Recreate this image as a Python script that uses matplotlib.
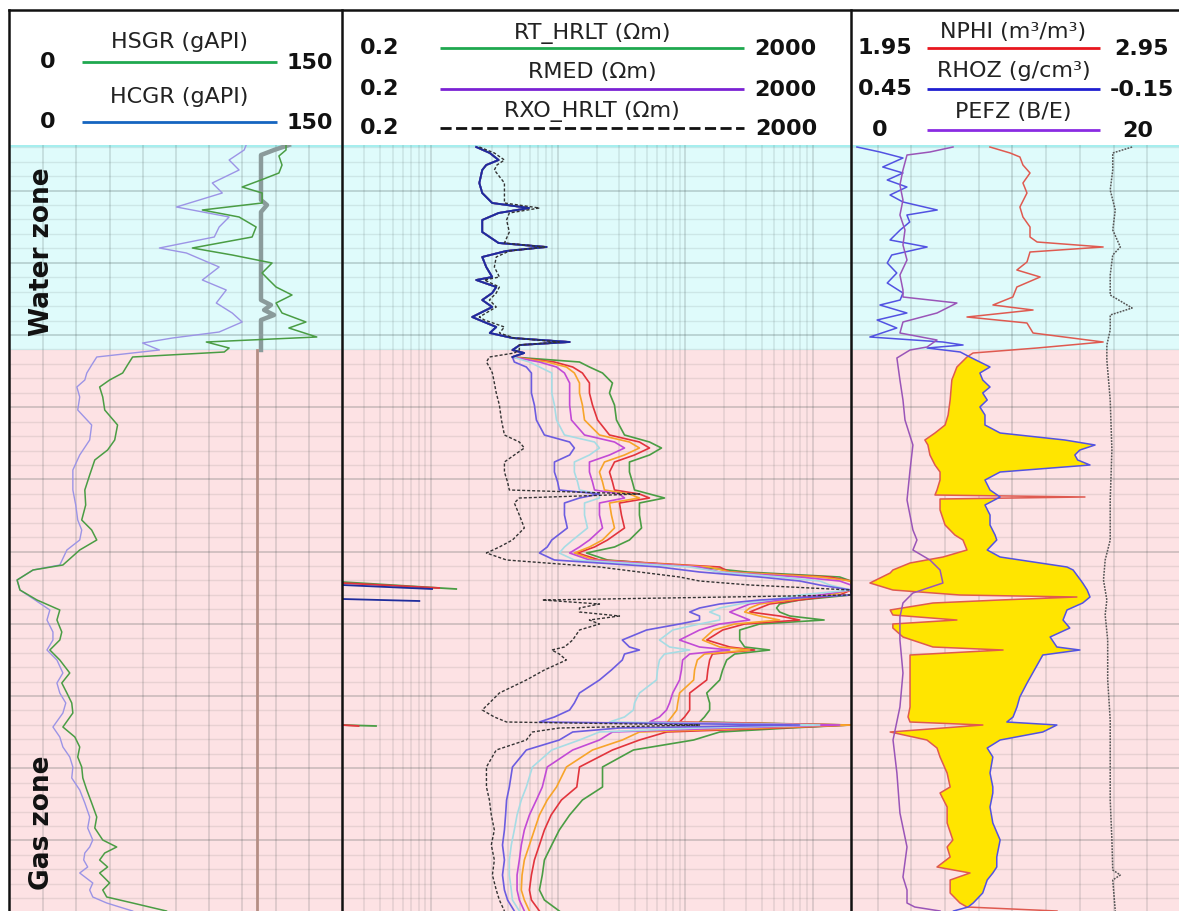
import numpy as np
import matplotlib
matplotlib.use("Agg")
import matplotlib.pyplot as plt

# ---------------- depth frame (m) ----------------
top_depth = 2600.0
contact_depth = 2641.0      # water / gas contact
base_depth = 2753.2

# ---------------- track 1 : gamma ray (gAPI) ----------------
hsgr_depth = [2600.0, 2601.0, 2602.2, 2604.0, 2605.6, 2607.0, 2608.4, 2609.6, 2611.6, 2613.0,
              2614.4, 2616.4, 2618.4, 2620.6, 2622.0, 2623.6, 2625.6, 2627.0, 2628.4, 2630.0,
              2631.6, 2633.6, 2635.4, 2636.6, 2638.4, 2639.4, 2640.6, 2641.4, 2642.4, 2644.0,
              2645.6, 2647.0, 2648.4, 2650.4, 2653.0, 2656.0, 2659.0, 2661.0, 2663.0, 2666.0,
              2669.0, 2672.0, 2675.0, 2677.0, 2679.0, 2681.0, 2684.0, 2685.0, 2687.0, 2689.0,
              2691.0, 2693.0, 2695.0, 2697.4, 2699.0, 2701.0, 2703.0, 2705.6, 2707.6, 2709.6,
              2711.6, 2713.6, 2716.4, 2718.4, 2720.4, 2722.4, 2724.4, 2726.6, 2729.0, 2731.6,
              2734.4, 2736.6, 2739.0, 2740.4, 2741.6, 2743.0, 2744.4, 2745.6, 2747.6, 2749.0,
              2750.4, 2751.6, 2752.4, 2753.2]
hsgr = [124.7, 124.7, 121.5, 122.9, 121.5, 113.4, 104.9, 113.9, 113.9, 86.9,
        103.5, 111.2, 109.4, 82.4, 100.4, 118.4, 113.9, 117.0, 120.2, 127.4,
        120.2, 122.9, 133.7, 126.0, 138.6, 88.7, 99.0, 96.8, 55.4, 53.1,
        50.9, 45.0, 40.5, 41.9, 42.8, 48.6, 47.3, 44.1, 38.3, 36.0,
        33.8, 34.2, 32.4, 36.9, 39.2, 31.5, 23.9, 10.4, 3.2, 4.5,
        12.2, 22.5, 21.2, 23.4, 22.5, 18.0, 22.5, 27.0, 23.4, 25.7,
        27.9, 28.4, 23.9, 29.3, 31.5, 30.6, 32.4, 32.9, 34.7, 36.9,
        39.2, 38.3, 41.9, 48.2, 42.8, 40.5, 44.1, 40.5, 45.0, 41.9,
        43.7, 55.4, 63.0, 70.7]

hcgr_depth = [2600.0, 2601.0, 2603.0, 2605.0, 2607.6, 2609.6, 2612.4, 2614.4, 2616.4, 2618.4,
              2620.6, 2621.6, 2624.4, 2627.0, 2629.0, 2631.6, 2633.6, 2635.4, 2637.4, 2638.6,
              2639.6, 2641.0, 2642.4, 2644.0, 2645.6, 2647.0, 2648.4, 2650.4, 2653.0, 2656.0,
              2659.0, 2662.0, 2665.0, 2669.0, 2672.0, 2675.0, 2677.0, 2679.0, 2681.0, 2684.0,
              2685.0, 2687.0, 2689.0, 2691.0, 2693.0, 2695.0, 2697.4, 2699.0, 2701.0, 2703.0,
              2705.6, 2707.6, 2709.6, 2711.6, 2713.6, 2716.4, 2718.4, 2720.4, 2722.4, 2724.4,
              2726.6, 2729.0, 2731.6, 2734.4, 2736.6, 2739.0, 2740.4, 2741.6, 2743.0, 2744.4,
              2745.6, 2747.6, 2749.0, 2750.4, 2751.6, 2752.4, 2753.2]
hcgr = [106.7, 105.8, 99.0, 103.5, 91.4, 95.9, 75.2, 99.0, 94.5, 92.3,
        67.5, 79.7, 94.5, 86.9, 97.7, 93.2, 100.4, 104.9, 94.5, 73.4,
        59.9, 67.5, 39.2, 36.9, 34.7, 33.8, 30.2, 31.5, 30.6, 36.9,
        36.0, 31.5, 28.4, 28.4, 29.7, 30.6, 32.4, 31.5, 25.7, 22.5,
        10.4, 3.2, 4.5, 11.3, 18.0, 16.7, 19.4, 19.4, 16.7, 21.2,
        23.9, 21.2, 22.5, 25.2, 23.9, 19.4, 22.5, 23.9, 27.0, 28.4,
        27.9, 31.5, 33.8, 36.0, 35.1, 37.4, 36.0, 33.8, 33.3, 35.1,
        31.5, 37.4, 36.0, 37.4, 43.7, 49.5, 55.4]

# tool reference trace drawn on the gamma-ray scale
tens_water_depth = [2600.0, 2601.0, 2602.0, 2611.0, 2612.0, 2613.4, 2631.0, 2632.0, 2633.0, 2634.0, 2635.0, 2641.0]
tens_water = [126.0, 119.3, 113.4, 113.4, 116.1, 113.4, 113.4, 117.9, 114.8, 119.3, 113.4, 113.4]
tens_gas_depth = [2641.0, 2753.2]
tens_gas = [111.6, 111.6]

# ---------------- track 2 : resistivity (ohm.m) ----------------
res_water_depth = [2600.4, 2601.6, 2603.0, 2604.0, 2605.0, 2607.6, 2609.6, 2611.6, 2612.6, 2613.6,
                   2615.0, 2617.4, 2619.6, 2620.4, 2621.2, 2622.4, 2624.4, 2626.4, 2627.0, 2628.4,
                   2629.6, 2631.0, 2632.4, 2634.4, 2635.0, 2636.4, 2637.6, 2638.6, 2639.4, 2640.0,
                   2641.0, 2641.6, 2642.4]
res_water = [2.27, 2.9, 3.4, 2.72, 2.53, 2.4, 2.53, 3.03, 5.9, 3.4,
             2.53, 2.53, 3.4, 8.1, 3.9, 2.53, 2.72, 3.03, 2.27, 3.26,
             3.03, 2.53, 3.03, 2.11, 2.4, 3.26, 2.9, 4.37, 12.3, 5.0,
             4.37, 5.4, 4.37]
rxo_water = [2.4, 3.15, 3.78, 3.3, 3.15, 3.78, 3.78, 3.78, 7.12, 4.13,
             3.93, 4.13, 3.78, 7.79, 4.13, 3.26, 3.15, 3.45, 2.63, 3.45,
             3.26, 2.88, 3.26, 2.4, 2.63, 3.78, 3.45, 4.52, 10.2, 4.95,
             4.95, 4.52, 2.88]

res_gas_depth = [2643.4, 2644.4, 2645.6, 2647.6, 2649.6, 2652.0, 2655.0, 2658.0, 2659.4, 2660.6,
                 2662.0, 2663.4, 2665.4, 2667.4, 2669.0, 2669.8, 2670.6, 2671.6, 2674.0, 2676.6,
                 2679.0, 2680.4, 2681.6, 2683.0, 2684.4, 2685.4, 2686.4, 2687.2, 2688.0, 2689.0,
                 2690.0, 2691.0, 2691.8, 2692.6, 2693.4, 2694.2, 2695.0, 2695.8, 2697.0, 2699.0,
                 2700.4, 2701.0, 2701.8, 2703.0, 2705.0, 2707.0, 2709.6, 2711.6, 2713.0, 2714.4,
                 2715.4, 2716.0, 2716.6, 2717.4, 2719.0, 2721.0, 2724.4, 2728.4, 2731.0, 2734.0,
                 2737.0, 2740.0, 2743.0, 2746.0, 2749.0, 2751.0, 2753.2]
rxo_gas = [2.73, 2.88, 3.04, 3.15, 3.26, 3.45, 3.58, 3.78, 4.95, 5.42,
           4.52, 3.78, 3.78, 4.0, 4.13, 43.5, 4.95, 4.52, 4.95, 5.42,
           4.37, 3.45, 2.73, 3.93, 21.1, 43.5, 89.9, 129, 320, 2000,
           2000, 7.5, 21.1, 14.7, 14.7, 30.3, 17.6, 21.1, 14.7, 13.0,
           11.2, 8.9, 10.2, 11.6, 7.79, 5.62, 3.45, 2.88, 2.53, 3.15,
           3.93, 129, 10.2, 6.27, 5.62, 3.26, 2.73, 2.73, 2.88, 2.98,
           3.15, 2.98, 3.15, 3.04, 3.26, 3.45, 3.78]
rmed_gas = [4.52, 5.62, 6.16, 6.16, 6.16, 6.50, 6.74, 7.79, 12.3, 13.4,
            12.3, 9.34, 9.34, 9.9, 10.2, 21.1, 14.7, 11.2, 11.2, 11.8,
            8.9, 8.2, 7.12, 9.34, 62.5, 129, 383, 790, 1135, 2000,
            2000, 383, 186, 129, 108, 129, 129, 89.9, 49.5, 31.9,
            36.3, 43.5, 33.2, 31.9, 26.2, 21.1, 14.7, 13.4, 12.3, 9.34,
            7.12, 790, 30.3, 13.0, 10.2, 5.62, 4.37, 4.13, 3.93, 3.86,
            3.78, 3.65, 3.78, 3.65, 3.78, 4.0, 4.52]
rla2_gas = [5.94, 7.12, 8.9, 8.9, 8.9, 9.34, 9.7, 11.2, 19.3, 21.1,
            17.6, 13.4, 13.4, 14.2, 14.7, 21.1, 21.1, 16.1, 16.1, 17.0,
            13.0, 11.2, 10.2, 13.4, 108, 186, 550, 1135, 1360, 2000,
            790, 459, 267, 186, 155, 186, 186, 129, 79.4, 62.5,
            75.0, 108, 68.5, 62.5, 60.3, 59.2, 43.5, 39.8, 39.0, 33.2,
            25.3, 1135, 129, 21.1, 14.7, 8.9, 6.27, 5.62, 5.13, 4.75,
            4.52, 4.28, 4.13, 4.13, 4.28, 4.37, 4.95]
rla3_gas = [7.12, 9.7, 11.2, 12.3, 12.3, 12.3, 12.7, 16.1, 27.7, 33.2,
            25.3, 17.6, 17.6, 18.6, 19.3, 30.3, 33.2, 21.1, 21.1, 22.3,
            17.6, 14.7, 12.3, 17.6, 129, 186, 790, 1630, 2000, 2000,
            1135, 550, 320, 267, 223, 267, 320, 186, 129, 89.9,
            129, 223, 108, 95.0, 93, 89.9, 79.4, 75.0, 71.0, 62.5,
            52.2, 1630, 223, 26.7, 21.1, 13.0, 8.2, 7.5, 6.74, 5.94,
            5.42, 5.13, 4.95, 4.75, 4.75, 4.95, 5.42]
rla4_gas = [8.2, 11.6, 13.4, 14.7, 14.7, 15.5, 16.1, 21.1, 36.3, 43.5,
            33.2, 23.1, 21.1, 22.3, 23.1, 36.3, 43.5, 25.3, 26.2, 27.7,
            22.3, 17.6, 13.4, 19.3, 155, 223, 1135, 2000, 2000, 2000,
            1360, 660, 383, 320, 292, 383, 550, 244, 166, 136,
            186, 320, 141, 124, 118, 116, 89.9, 87.0, 85.5, 77.8,
            72.3, 2000, 383, 43.5, 31.9, 18.6, 11.6, 9.7, 8.2, 7.12,
            6.50, 5.94, 5.42, 5.2, 5.13, 5.42, 5.94]
rla5_gas = [9.34, 13.0, 15.5, 17.6, 17.6, 18.6, 20.4, 25.3, 43.5, 52.2,
            39.8, 27.7, 25.3, 26.7, 27.7, 43.5, 52.2, 30.3, 31.4, 33.2,
            24.4, 19.3, 14.2, 21.1, 186, 223, 1360, 2000, 2000, 2000,
            1630, 790, 459, 383, 320, 550, 790, 292, 196, 147,
            223, 350, 163, 155, 150, 147, 108, 108, 108, 98.4,
            89.9, 2000, 550, 71.0, 43.5, 26.7, 14.7, 14.0, 10.6, 8.8,
            7.79, 7.12, 6.50, 6.16, 5.94, 6.16, 7.12]
rt_gas = [14.7, 17.6, 22.3, 26.7, 25.3, 27.7, 28.7, 33.2, 52.2, 64.8,
          52.2, 36.3, 36.3, 38.3, 39.8, 52.2, 68.5, 43.5, 43.5, 45.2,
          36.3, 27.7, 16.7, 24.4, 129, 306, 1630, 2000, 2000, 2000,
          2000, 790, 550, 520, 550, 660, 1230, 383, 267, 267,
          292, 459, 244, 211, 196, 186, 147, 155, 155, 141,
          129, 2000, 660, 186, 116, 39.0, 22.3, 22.3, 15.5, 12.3,
          10.2, 8.9, 7.79, 7.5, 7.12, 7.79, 10.2]

# readings above 2000 ohm.m re-entering from the left of the scale
wrap_rt_depth = [2687.4, 2688.8, np.nan, 2716.0, 2716.2]
wrap_rt = [0.2, 1.58, np.nan, 0.2, 0.37]
wrap_r5_depth = [2687.6, 2688.6, np.nan, 2716.0, 2716.2]
wrap_r5 = [0.2, 1.16, np.nan, 0.2, 0.27]
wrap_r1_depth = [2688.0, 2688.8, np.nan, 2690.8, 2691.2]
wrap_r1 = [0.2, 1.02, np.nan, 0.2, 0.81]

# ---------------- track 3 : porosity / density / PE ----------------
nphi_depth = [2600.4, 2601.6, 2602.4, 2604.0, 2605.6, 2607.6, 2609.6, 2612.4, 2614.4, 2616.4,
              2618.4, 2619.4, 2620.4, 2621.4, 2623.4, 2625.0, 2626.4, 2628.4, 2630.4, 2632.0,
              2633.0, 2634.4, 2635.6, 2637.6, 2639.4, 2640.6, 2641.6, 2642.4,
              2644.4, 2647.0, 2651.0, 2654.0, 2656.0, 2657.6, 2659.0, 2660.0, 2662.0, 2664.0,
              2665.4, 2667.0, 2669.0, 2670.0, 2670.4, 2670.8, 2673.0, 2676.0, 2678.0, 2679.0,
              2681.0, 2682.4, 2683.6, 2685.0, 2685.6, 2687.6, 2689.0, 2690.0, 2690.4, 2691.0,
              2691.6, 2693.0, 2694.0, 2695.0, 2695.8, 2696.6, 2698.4, 2700.4, 2701.0, 2702.0,
              2705.6, 2707.6, 2710.4, 2712.4, 2714.4, 2715.4, 2716.0, 2717.4, 2719.0, 2720.6,
              2722.4, 2725.6, 2728.4, 2729.6, 2732.4, 2735.6, 2739.0, 2740.4, 2742.4, 2744.4,
              2745.6, 2747.0, 2749.6, 2751.6, 2752.4, 2753.2]
nphi = [2.383, 2.443, 2.472, 2.481, 2.502, 2.481, 2.493, 2.472, 2.481, 2.502,
        2.502, 2.523, 2.719, 2.502, 2.493, 2.463, 2.532, 2.463, 2.451, 2.392,
        2.511, 2.315, 2.493, 2.511, 2.719, 2.523, 2.333, 2.315,
        2.285, 2.270, 2.265, 2.259, 2.250, 2.220, 2.190, 2.199, 2.205, 2.220,
        2.235, 2.235, 2.226, 2.220, 2.665, 2.235, 2.235, 2.250, 2.279, 2.303,
        2.315, 2.244, 2.146, 2.095, 2.087, 2.027, 2.095, 2.294, 2.641, 2.413,
        2.214, 2.087, 2.095, 2.285, 2.095, 2.095, 2.125, 2.214, 2.422, 2.146,
        2.146, 2.146, 2.146, 2.146, 2.140, 2.146, 2.362, 2.087, 2.196, 2.226,
        2.235, 2.256, 2.265, 2.235, 2.256, 2.256, 2.273, 2.256, 2.265, 2.226,
        2.324, 2.265, 2.265, 2.294, 2.315, 2.582]

rhoz_depth = [2600.4, 2601.4, 2602.6, 2604.4, 2605.6, 2607.0, 2608.4, 2610.0, 2611.4, 2613.0,
              2614.0, 2615.4, 2617.0, 2619.0, 2620.4, 2622.0, 2623.6, 2625.6, 2627.6, 2629.6,
              2631.0, 2632.0, 2633.6, 2635.0, 2636.6, 2638.4, 2639.4, 2640.0, 2640.6, 2641.4,
              2642.4,
              2644.4, 2645.6, 2647.0, 2648.4, 2649.6, 2651.0, 2652.4, 2654.0, 2656.0, 2657.6,
              2659.0, 2660.0, 2661.0, 2662.0, 2663.0, 2664.0, 2665.4, 2667.0, 2669.0, 2670.4,
              2672.0, 2674.0, 2676.0, 2678.0, 2679.0, 2681.0, 2682.4, 2684.4, 2685.0, 2687.6,
              2689.0, 2690.4, 2691.6, 2693.0, 2695.0, 2696.6, 2698.4, 2700.4, 2701.0, 2702.0,
              2705.6, 2707.6, 2710.4, 2712.4, 2714.4, 2715.4, 2716.0, 2717.4, 2719.0, 2720.6,
              2722.4, 2725.6, 2728.4, 2729.6, 2732.4, 2735.6, 2739.0, 2742.4, 2744.4, 2745.6,
              2747.0, 2749.6, 2751.6, 2752.4, 2753.2]
rhoz = [0.427, 0.386, 0.345, 0.381, 0.345, 0.373, 0.338, 0.368, 0.345, 0.284,
        0.338, 0.333, 0.350, 0.368, 0.302, 0.365, 0.373, 0.356, 0.373, 0.345,
        0.350, 0.386, 0.338, 0.391, 0.356, 0.404, 0.274, 0.238, 0.302, 0.243,
        0.226,
        0.190, 0.208, 0.203, 0.190, 0.203, 0.195, 0.208, 0.199, 0.199, 0.172,
        0.057, 0.003, 0.030, 0.039, 0.034, 0.012, 0.172, 0.199, 0.190, 0.172,
        0.199, 0.190, 0.190, 0.181, 0.178, 0.195, 0.172, 0.053, 0.042, 0.025,
        0.017, 0.012, 0.025, 0.053, 0.060, 0.048, 0.083, 0.071, 0.030, 0.096,
        0.114, 0.124, 0.137, 0.142, 0.149, 0.160, 0.071, 0.096, 0.172, 0.195,
        0.185, 0.190, 0.185, 0.185, 0.190, 0.185, 0.172, 0.178, 0.178, 0.185,
        0.195, 0.203, 0.220, 0.229, 0.255]

pefz_depth = [2600.4, 2601.4, 2602.0, 2605.0, 2608.0, 2611.0, 2614.0, 2617.0, 2620.0, 2623.0,
              2626.0, 2629.0, 2630.4, 2631.6, 2633.6, 2635.4, 2637.6, 2639.0, 2640.4, 2641.0,
              2642.6, 2647.0, 2651.0, 2655.0, 2660.0, 2665.0, 2671.0, 2677.0, 2679.0, 2681.0,
              2683.0, 2685.0, 2687.6, 2689.6, 2691.6, 2694.4, 2699.0, 2705.6, 2712.4, 2719.0,
              2725.6, 2733.6, 2740.4, 2746.4, 2749.0, 2751.6, 2752.4, 2753.2]
pefz = [6.47, 5.10, 3.74, 3.50, 3.32, 3.50, 3.32, 3.62, 3.50, 3.74,
        3.32, 3.50, 3.50, 6.70, 5.52, 3.50, 3.32, 5.52, 4.93, 3.92,
        3.14, 3.32, 3.50, 3.62, 4.09, 3.92, 3.74, 4.09, 4.33, 4.09,
        5.10, 5.70, 5.87, 4.09, 3.50, 3.32, 3.32, 3.50, 3.32, 2.91,
        3.14, 3.32, 3.74, 3.50, 3.74, 3.74, 4.2, 5.70]

# caliper-type trace plotted on the PE scale
hcal_depth = [2600.4, 2601.6, 2605.0, 2609.0, 2613.0, 2617.0, 2620.4, 2622.0, 2626.0, 2630.0,
              2632.6, 2634.0, 2637.0, 2640.0, 2643.0, 2651.0, 2661.0, 2671.0, 2679.0, 2683.0,
              2687.0, 2691.0, 2694.0, 2699.0, 2707.0, 2715.0, 2723.0, 2731.0, 2739.0, 2745.0,
              2746.0, 2747.0, 2753.2]
hcal = [17.1, 15.95, 15.95, 15.8, 16.1, 15.95, 16.4, 15.95, 15.8, 15.8,
        17.1, 15.8, 15.8, 15.6, 15.6, 15.8, 15.9, 15.8, 15.8, 15.5,
        15.4, 15.6, 15.5, 15.65, 15.65, 15.8, 15.8, 15.8, 15.9, 15.95,
        16.4, 15.95, 16.1]

# ---------------- scales ----------------
gr_scale = (0, 150)
res_scale = (0.2, 2000)
nphi_scale = (1.95, 2.95)
rhoz_scale = (0.45, -0.15)
pefz_scale = (0, 20)

# ---------------- styling ----------------
WATER_C = "#dffbfb"
GAS_C = "#fde2e4"
GRID_C = "#2f3d3d"
C_GREEN = "#4a9d44"
C_HCGR = "#9c94e6"
C_RED = "#e2343c"
C_ORANGE = "#f7a42a"
C_MAGENTA = "#c24ad6"
C_CYAN = "#a6dce4"
C_RMED = "#6c5ce0"
C_NAVY = "#1e2c9c"
C_RXO = "#333333"
C_NPHI = "#df5a50"
C_RHOZ = "#5252e2"
C_PEFZ = "#9a55b8"
C_HCAL = "#555555"
C_FILL = "#ffe500"

W, H = 1179, 911
DATA_TOP_PX = 145
fig = plt.figure(figsize=(W / 100, H / 100), dpi=100)
fig.patch.set_facecolor("white")


def track_axes(x0, x1):
    return fig.add_axes([x0 / W, 0, (x1 - x0) / W, (H - DATA_TOP_PX) / H])


def dress(ax):
    ax.set_ylim(base_depth, top_depth)
    ax.axhspan(top_depth, contact_depth, color=WATER_C, lw=0, zorder=0)
    ax.axhspan(contact_depth, base_depth, color=GAS_C, lw=0, zorder=0)
    for k in range(-14, 45):
        d = 2638.0 + 2.888 * k
        if top_depth < d < base_depth:
            major = (k % 5 == 0)
            ax.axhline(d, color=GRID_C, alpha=0.22 if major else 0.10,
                       lw=1.3 if major else 1.0, zorder=1)
    ax.axhline(top_depth, color="#a6eeee", lw=2.5, zorder=1)
    ax.set_xticks([])
    ax.set_yticks([])
    ax.patch.set_visible(False)
    for s in ax.spines.values():
        s.set_visible(False)


# ---------- track 1 ----------
ax1 = track_axes(10, 342)
ax1.set_xlim(*gr_scale)
dress(ax1)
for g in range(15, 150, 15):
    ax1.axvline(g, color=GRID_C, alpha=0.17, lw=1.2, zorder=1)
ax1.plot(tens_water, tens_water_depth, color="#8a9b9b", lw=3.2, zorder=2)
ax1.plot(tens_gas, tens_gas_depth, color="#b58e84", lw=2.0, zorder=2)
ax1.plot(hcgr, hcgr_depth, color=C_HCGR, lw=1.0, zorder=3)
ax1.plot(hsgr, hsgr_depth, color=C_GREEN, lw=1.1, zorder=4)
ax1.text(14.4, 2621.4, "Water zone", rotation=90, ha="center", va="center",
         fontsize=19, fontweight="bold", color="#111111", zorder=6)
ax1.text(14.4, 2735.6, "Gas zone", rotation=90, ha="center", va="center",
         fontsize=19, fontweight="bold", color="#111111", zorder=6)

# ---------- track 2 ----------
ax2 = track_axes(342, 851)
ax2.set_xscale("log")
ax2.set_xlim(*res_scale)
dress(ax2)
ax2.set_xticks([], minor=True)
for e in range(-1, 4):
    for m in range(1, 10):
        v = m * 10.0 ** e
        if res_scale[0] < v < res_scale[1]:
            ax2.axvline(v, color=GRID_C, alpha=0.20 if m == 1 else 0.12, lw=1.1, zorder=1)

res_depth = res_water_depth + res_gas_depth
curves = [
    (res_water + rt_gas, C_GREEN),
    (res_water + rla5_gas, C_RED),
    (res_water + rla4_gas, C_ORANGE),
    (res_water + rla3_gas, C_MAGENTA),
    (res_water + rla2_gas, C_CYAN),
    (res_water + rmed_gas, C_RMED),
]
for i, (vals, col) in enumerate(curves):
    ax2.plot(vals, res_depth, color=col, lw=1.2, zorder=3 + i * 0.1)
ax2.plot(res_water, res_water_depth, color=C_NAVY, lw=1.4, zorder=4)
ax2.plot(rxo_water + rxo_gas, res_depth, color=C_RXO, lw=1.0,
         dashes=(2.2, 1.4), zorder=4.2)
ax2.plot(wrap_rt, wrap_rt_depth, color=C_GREEN, lw=1.3, zorder=4)
ax2.plot(wrap_r5, wrap_r5_depth, color=C_RED, lw=1.3, zorder=4)
ax2.plot(wrap_r1, wrap_r1_depth, color=C_NAVY, lw=1.3, zorder=4)

# ---------- track 3 ----------
# visible part of the scale width (track is cut at the page edge)
frac0, frac1 = 0.0208, 0.9941


def scale_lim(lo, hi):
    return lo + frac0 * (hi - lo), lo + frac1 * (hi - lo)


ax3 = track_axes(851, W)
ax3.set_xlim(*scale_lim(*nphi_scale))
dress(ax3)
for k in range(1, 10):
    ax3.axvline(nphi_scale[0] + 0.1 * k * (nphi_scale[1] - nphi_scale[0]),
                color=GRID_C, alpha=0.2 if k == 5 else 0.15, lw=1.2, zorder=1)

# density expressed on the neutron scale for the crossover shading
zz = np.linspace(contact_depth, base_depth, 3000)
n_i = np.interp(zz, nphi_depth, nphi)
rho_frac = (np.interp(zz, rhoz_depth, rhoz) - rhoz_scale[0]) / (rhoz_scale[1] - rhoz_scale[0])
d_i = nphi_scale[0] + rho_frac * (nphi_scale[1] - nphi_scale[0])
ax3.fill_betweenx(zz, n_i, d_i, where=n_i < d_i, interpolate=True,
                  color=C_FILL, lw=0, zorder=2)
ax3.plot(nphi, nphi_depth, color=C_NPHI, lw=1.1, zorder=4)

ax3b = ax3.twiny()
ax3b.set_xlim(*scale_lim(*rhoz_scale))
ax3b.set_ylim(base_depth, top_depth)
ax3b.plot(rhoz, rhoz_depth, color=C_RHOZ, lw=1.1)

ax3c = ax3.twiny()
ax3c.set_xlim(*scale_lim(*pefz_scale))
ax3c.set_ylim(base_depth, top_depth)
ax3c.plot(pefz, pefz_depth, color=C_PEFZ, lw=1.1)
ax3c.plot(hcal, hcal_depth, color=C_HCAL, lw=1.1, ls=(0, (1.2, 0.8)))
for a in (ax3b, ax3c):
    a.patch.set_visible(False)
    a.set_xticks([])
    a.set_yticks([])
    for s in a.spines.values():
        s.set_visible(False)

# ---------- header and frame ----------
hd = fig.add_axes([0, 0, 1, 1], zorder=10)
hd.set_xlim(0, W)
hd.set_ylim(H, 0)
hd.axis("off")
hd.patch.set_visible(False)

headers = [
    # title, left, right, colour, dashed, title_y, line_y, x0, x1, left_x, right_x
    ("HSGR (gAPI)", "0", "150", "#1fa84f", False, 42, 62, 82, 277, 48, 310),
    ("HCGR (gAPI)", "0", "150", "#1565c0", False, 97, 122, 82, 277, 48, 310),
    ("RT_HRLT (Ωm)", "0.2", "2000", "#1fa84f", False, 33, 48, 440, 744, 380, 785),
    ("RMED (Ωm)", "0.2", "2000", "#7b22d4", False, 72, 89, 440, 744, 380, 785),
    ("RXO_HRLT (Ωm)", "0.2", "2000", "#111111", True, 112, 128, 440, 744, 380, 786),
    ("NPHI (m³/m³)", "1.95", "2.95", "#e8161e", False, 32, 48, 927, 1100, 885, 1141),
    ("RHOZ (g/cm³)", "0.45", "-0.15", "#1f1fd0", False, 71, 89, 927, 1100, 885, 1142),
    ("PEFZ (B/E)", "0", "20", "#8a2be2", False, 112, 130, 927, 1100, 880, 1138),
]
for title, lft, rgt, col, dashed, ty, ly, x0, x1, lx, rx in headers:
    kw = dict(dashes=(4, 1.6)) if dashed else {}
    hd.plot([x0, x1], [ly, ly], color=col, lw=2.0, solid_capstyle="butt", **kw)
    hd.text((x0 + x1) / 2, ty, title, ha="center", va="center", fontsize=16, color="#222222")
    hd.text(lx, ly, lft, ha="center", va="center", fontsize=16, fontweight="bold", color="#111111")
    hd.text(rx, ly + 1, rgt, ha="center", va="center", fontsize=16, fontweight="bold", color="#111111")

frame = dict(color="#111111", lw=1.8, solid_capstyle="projecting")
hd.plot([9, W], [10, 10], **frame)
hd.plot([9, 9], [10, H], **frame)
hd.plot([342, 342], [10, H], **frame)
hd.plot([851, 851], [10, H], **frame)

fig.savefig("out.png", dpi=100, facecolor="white")
